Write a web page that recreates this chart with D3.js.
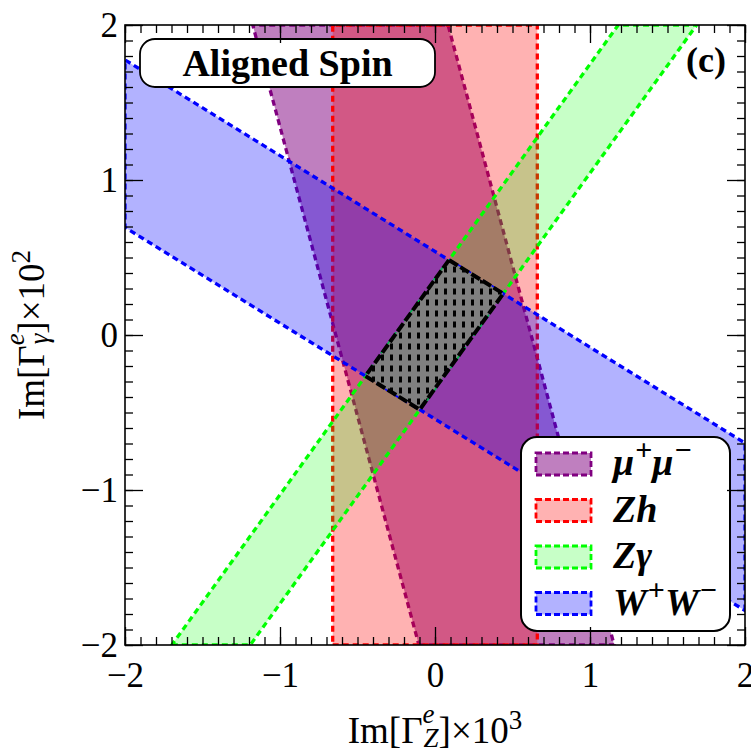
<!DOCTYPE html>
<html>
<head>
<meta charset="utf-8">
<script src="https://cdn.jsdelivr.net/npm/d3@7"></script>
<style>
  body { margin: 0; background: #fff; }
  svg { display: block; }
  text { font-family: "Liberation Serif", "Times New Roman", serif; }
</style>
</head>
<body>
<div id="chart"></div>
<script>
// bands: lower <= cx*x + cy*y <= upper  (x = Im[Γ_Z]·10^3, y = Im[Γ_γ]·10^2)
const channels = ["mumu", "Zh", "Zgamma", "WW"];
const coefX = [1, 1, 1, 0.618];
const coefY = [0.268, 0, -0.72, 1];
const lower = [-0.64, -0.66, -0.258, -0.542];
const upper = [0.62, 0.66, 0.248, 0.539];
const colors = ["#800080", "#ff0000", "#00ff00", "#0000ff"];
const fillOpacity = [0.5, 0.3, 0.22, 0.3];

const xTicks = [-2, -1, 0, 1, 2];
const yTicks = [-2, -1, 0, 1, 2];
const minorTicks = d3.range(-20, 21).map((d) => d / 10);

const width = 751;
const height = 751;
const margin = { top: 25, right: 6, bottom: 106, left: 125 };

const x = d3.scaleLinear().domain([-2, 2]).range([margin.left, width - margin.right]);
const y = d3.scaleLinear().domain([-2, 2]).range([height - margin.bottom, margin.top]);

const svg = d3
  .select("#chart")
  .append("svg")
  .attr("width", width)
  .attr("height", height);

const defs = svg.append("defs");
defs
  .append("clipPath")
  .attr("id", "plot-clip")
  .append("rect")
  .attr("x", x(-2))
  .attr("y", y(2))
  .attr("width", x(2) - x(-2))
  .attr("height", y(-2) - y(2));

const hatch = defs
  .append("pattern")
  .attr("id", "hatch")
  .attr("patternUnits", "userSpaceOnUse")
  .attr("width", 9)
  .attr("height", 11);
hatch.append("rect").attr("width", 9).attr("height", 11).attr("fill", "#808080");
hatch.append("rect").attr("x", 3).attr("y", 2.5).attr("width", 3).attr("height", 6).attr("fill", "#000");

// keep part of polygon with a*x + b*y >= c
function clipHalf(poly, a, b, c) {
  const out = [];
  for (let i = 0; i < poly.length; i++) {
    const P = poly[i];
    const Q = poly[(i + 1) % poly.length];
    const fp = a * P[0] + b * P[1] - c;
    const fq = a * Q[0] + b * Q[1] - c;
    if (fp >= 0) out.push(P);
    if (fp >= 0 !== fq >= 0) {
      const t = fp / (fp - fq);
      out.push([P[0] + t * (Q[0] - P[0]), P[1] + t * (Q[1] - P[1])]);
    }
  }
  return out;
}

const square = [[-2, -2], [2, -2], [2, 2], [-2, 2]];
function bandPoly(i, poly = square) {
  let p = clipHalf(poly, coefX[i], coefY[i], lower[i]);
  return clipHalf(p, -coefX[i], -coefY[i], -upper[i]);
}

const line = d3
  .line()
  .x((d) => x(d[0]))
  .y((d) => y(d[1]))
  .curve(d3.curveLinearClosed);

const plot = svg.append("g").attr("clip-path", "url(#plot-clip)");

channels.forEach((c, i) => {
  const poly = bandPoly(i);
  plot
    .append("path")
    .attr("d", line(poly))
    .attr("fill", colors[i])
    .attr("fill-opacity", fillOpacity[i]);
  plot
    .append("path")
    .attr("d", line(poly))
    .attr("fill", "none")
    .attr("stroke", colors[i])
    .attr("stroke-width", 3.3)
    .attr("stroke-dasharray", "6,4");
});

// combined allowed region
let combined = square;
channels.forEach((c, i) => {
  combined = bandPoly(i, combined);
});
plot
  .append("path")
  .attr("d", line(combined))
  .attr("fill", "url(#hatch)")
  .attr("stroke", "#000")
  .attr("stroke-width", 4)
  .attr("stroke-dasharray", "10,3");

// "Aligned Spin" label box
svg
  .append("rect")
  .attr("x", 140)
  .attr("y", 39)
  .attr("width", 295)
  .attr("height", 48)
  .attr("rx", 15)
  .attr("fill", "#fff")
  .attr("stroke", "#000")
  .attr("stroke-width", 1.8);
svg
  .append("text")
  .attr("x", 287.5)
  .attr("y", 76)
  .attr("text-anchor", "middle")
  .attr("font-weight", "bold")
  .attr("font-size", 38)
  .text("Aligned Spin");

svg
  .append("text")
  .attr("x", 706)
  .attr("y", 72)
  .attr("text-anchor", "middle")
  .attr("font-weight", "bold")
  .attr("font-size", 36)
  .text("(c)");

// legend
const legendLabels = [
  [["μ", 0], ["+", -15], ["μ", 15], ["−", -15]],
  [["Zh", 0]],
  [["Zγ", 0]],
  [["W", 0], ["+", -15], ["W", 15], ["−", -15]]
];
const legend = svg.append("g");
legend
  .append("rect")
  .attr("x", 521)
  .attr("y", 437)
  .attr("width", 209)
  .attr("height", 194)
  .attr("rx", 16)
  .attr("fill", "#fff")
  .attr("stroke", "#000")
  .attr("stroke-width", 2);

channels.forEach((c, i) => {
  const base = 475 + i * 46.5;
  legend
    .append("rect")
    .attr("x", 536)
    .attr("y", base - 22)
    .attr("width", 55)
    .attr("height", 22)
    .attr("fill", colors[i])
    .attr("fill-opacity", fillOpacity[i])
    .attr("stroke", colors[i])
    .attr("stroke-width", 2.8)
    .attr("stroke-dasharray", "6,3");
  const t = legend
    .append("text")
    .attr("x", 613)
    .attr("y", base)
    .attr("font-size", 38)
    .attr("font-weight", "bold")
    .attr("font-style", "italic");
  legendLabels[i].forEach(([s, dy]) => {
    const sup = s === "+" || s === "−";
    t.append("tspan")
      .attr("dy", dy)
      .attr("dx", sup ? 1 : 0)
      .attr("font-size", sup ? 30 : 38)
      .attr("font-style", sup ? "normal" : "italic")
      .text(s);
  });
});

// axes: ticks inward on all four sides
function styleAxis(g) {
  g.select(".domain").remove();
  g.selectAll("line").attr("stroke", "#000").attr("stroke-width", 1.3);
  g.selectAll("text")
    .attr("font-family", '"Liberation Serif", "Times New Roman", serif')
    .attr("font-size", 35)
    .attr("fill", "#000");
}

const bottomY = y(-2);
const topY = y(2);
const leftX = x(-2);
const rightX = x(2);
const fmt = (d) => (d < 0 ? "−" + Math.abs(d) : d);

svg.append("g").attr("transform", `translate(0,${bottomY})`)
  .call(d3.axisBottom(x).tickValues(minorTicks).tickSize(-8).tickSizeOuter(0).tickFormat(""))
  .call(styleAxis);
svg.append("g").attr("transform", `translate(0,${bottomY})`)
  .call(d3.axisBottom(x).tickValues(xTicks).tickSize(-18).tickSizeOuter(0).tickPadding(17).tickFormat(fmt))
  .call(styleAxis);
svg.append("g").attr("transform", `translate(0,${topY})`)
  .call(d3.axisTop(x).tickValues(minorTicks).tickSize(-8).tickSizeOuter(0).tickFormat(""))
  .call(styleAxis);
svg.append("g").attr("transform", `translate(0,${topY})`)
  .call(d3.axisTop(x).tickValues(xTicks).tickSize(-18).tickSizeOuter(0).tickFormat(""))
  .call(styleAxis);

svg.append("g").attr("transform", `translate(${leftX},0)`)
  .call(d3.axisLeft(y).tickValues(minorTicks).tickSize(-8).tickSizeOuter(0).tickFormat(""))
  .call(styleAxis);
svg.append("g").attr("transform", `translate(${leftX},0)`)
  .call(d3.axisLeft(y).tickValues(yTicks).tickSize(-18).tickSizeOuter(0).tickPadding(7).tickFormat(fmt))
  .call(styleAxis);
svg.append("g").attr("transform", `translate(${rightX},0)`)
  .call(d3.axisRight(y).tickValues(minorTicks).tickSize(-8).tickSizeOuter(0).tickFormat(""))
  .call(styleAxis);
svg.append("g").attr("transform", `translate(${rightX},0)`)
  .call(d3.axisRight(y).tickValues(yTicks).tickSize(-18).tickSizeOuter(0).tickFormat(""))
  .call(styleAxis);

svg
  .append("rect")
  .attr("x", leftX)
  .attr("y", topY)
  .attr("width", rightX - leftX)
  .attr("height", bottomY - topY)
  .attr("fill", "none")
  .attr("stroke", "#000")
  .attr("stroke-width", 1.6);

// axis titles
function axisTitle(g, sub) {
  g.append("tspan").text("Im[Γ");
  g.append("tspan").attr("dy", -20).attr("font-size", 27).attr("font-style", "italic").text("e");
  g.append("tspan").attr("dx", -11).attr("dy", 24).attr("font-size", 27).attr("font-style", "italic").text(sub);
  g.append("tspan").attr("dy", -4).text("]×10");
  return g;
}

const xt = svg
  .append("text")
  .attr("x", x(0))
  .attr("y", 743)
  .attr("text-anchor", "middle")
  .attr("font-size", 37);
axisTitle(xt, "Z");
xt.append("tspan").attr("dy", -14).attr("font-size", 27).text("3");

const yt = svg
  .append("text")
  .attr("transform", `translate(44,${y(0)}) rotate(-90)`)
  .attr("text-anchor", "middle")
  .attr("font-size", 37);
axisTitle(yt, "γ");
yt.append("tspan").attr("dy", -14).attr("font-size", 27).text("2");
</script>
</body>
</html>
